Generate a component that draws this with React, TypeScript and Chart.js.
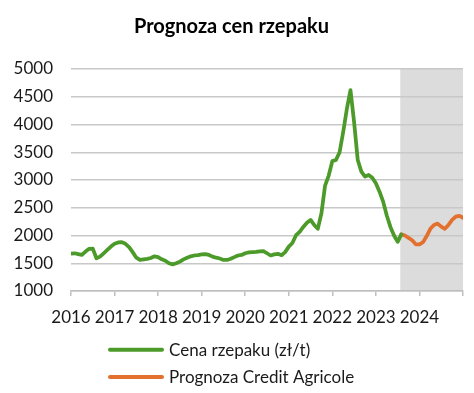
import React, { useEffect, useRef } from "react";
import { Chart, registerables } from "chart.js";

Chart.register(...registerables);

// Monthly series starting January 2016
const startYear = 2016;
const yearTicks = [2016, 2017, 2018, 2019, 2020, 2021, 2022, 2023, 2024, 2025];
const priceStartMonth = 0; // Jan 2016
const priceValues = [
  1675, 1680, 1665, 1650, 1710, 1760, 1765, 1590, 1620, 1680, 1740, 1800,
  1850, 1875, 1880, 1850, 1790, 1700, 1600, 1560, 1570, 1580, 1595, 1625,
  1610, 1570, 1545, 1500, 1480, 1500, 1530, 1570, 1600, 1625, 1640, 1645,
  1660, 1665, 1650, 1620, 1600, 1585, 1560, 1560, 1580, 1610, 1640, 1650,
  1680, 1695, 1700, 1705, 1715, 1720, 1680, 1640, 1660, 1670, 1645, 1700,
  1800, 1865, 2005, 2065, 2155, 2230, 2280, 2190, 2120, 2400, 2900, 3080,
  3340, 3360, 3500, 3870, 4280, 4620, 4040, 3360, 3150, 3060, 3090, 3040,
  2940, 2790, 2610, 2360, 2155, 2000, 1885, 2020,
];
const forecastStartMonth = 91; // Aug 2023
const forecastValues = [
  2020, 2000, 1958, 1915, 1840, 1840, 1880, 1990, 2120, 2190, 2215, 2160,
  2120, 2190, 2280, 2340, 2355, 2320,
];
const forecastShadeStart = 2023.56;
const seriesLabels = ["Cena rzepaku (zł/t)", "Prognoza Credit Agricole"];
const seriesColors = ["#4C9A2A", "#E2702F"];

const toPoints = (start: number, vals: number[]) =>
  vals.map((v, i) => ({ x: startYear + (start + i) / 12, y: v }));

const FONT = "Lato, 'Open Sans', sans-serif";

const shadePlugin = {
  id: "forecastShade",
  beforeDraw(chart: any) {
    const { ctx, chartArea, scales } = chart;
    const x0 = scales.x.getPixelForValue(forecastShadeStart);
    ctx.save();
    ctx.fillStyle = "#DCDCDC";
    ctx.fillRect(x0, chartArea.top, chartArea.right - x0, chartArea.bottom - chartArea.top);
    ctx.restore();
  },
};

const legendPlugin = {
  id: "stackedLegend",
  afterDraw(chart: any) {
    const { ctx } = chart;
    const rows = [349.7, 376.9];
    ctx.save();
    chart.data.datasets.forEach((ds: any, i: number) => {
      const y = rows[i];
      ctx.strokeStyle = ds.borderColor;
      ctx.lineWidth = 4;
      ctx.lineCap = "round";
      ctx.beginPath();
      ctx.moveTo(110, y);
      ctx.lineTo(162, y);
      ctx.stroke();
      ctx.fillStyle = "#1a1a1a";
      ctx.font = `17px ${FONT}`;
      ctx.textBaseline = "middle";
      ctx.textAlign = "left";
      ctx.fillText(ds.label, 169, y + 1);
    });
    ctx.restore();
  },
};

export default function App() {
  const ref = useRef<HTMLCanvasElement>(null);
  useEffect(() => {
    if (!ref.current) return;
    const chart = new Chart(ref.current, {
      type: "line",
      data: {
        datasets: [
          {
            label: seriesLabels[0],
            data: toPoints(priceStartMonth, priceValues),
            borderColor: seriesColors[0],
            backgroundColor: seriesColors[0],
            borderWidth: 3.75,
            pointRadius: 0,
            tension: 0,
            borderJoinStyle: "round",
            borderCapStyle: "round",
          },
          {
            label: seriesLabels[1],
            data: toPoints(forecastStartMonth, forecastValues),
            borderColor: seriesColors[1],
            backgroundColor: seriesColors[1],
            borderWidth: 3.75,
            pointRadius: 0,
            tension: 0,
            borderJoinStyle: "round",
            borderCapStyle: "round",
          },
        ],
      },
      options: {
        responsive: false,
        animation: false,
        events: [],
        layout: { padding: { left: 0, right: 11, top: 0, bottom: 62 } },
        plugins: {
          legend: { display: false },
          tooltip: { enabled: false },
          title: {
            display: true,
            text: "Prognoza cen rzepaku",
            color: "#000",
            font: { family: FONT, size: 20, weight: "bold" },
            padding: { top: 15, bottom: 30 },
          },
        },
        scales: {
          x: {
            type: "linear",
            min: yearTicks[0],
            max: yearTicks[yearTicks.length - 1],
            afterBuildTicks: (s: any) => {
              s.ticks = yearTicks.map((v) => ({ value: v }));
            },
            afterFit: (s: any) => {
              s.height = 40;
            },
            ticks: {
              autoSkip: false,
              maxRotation: 0,
              padding: 11,
              color: "#1a1a1a",
              font: { family: FONT, size: 17 },
              callback: (v: any) => (v === yearTicks[yearTicks.length - 1] ? "" : String(v)),
            },
            grid: {
              drawOnChartArea: false,
              drawTicks: true,
              tickLength: 5,
              color: "#BFBFBF",
              lineWidth: 1.5,
            },
            border: { color: "#BFBFBF", width: 1.5 },
          },
          y: {
            min: 1000,
            max: 5000,
            afterFit: (s: any) => {
              s.width = 71;
            },
            ticks: {
              stepSize: 500,
              padding: 18,
              color: "#1a1a1a",
              font: { family: FONT, size: 17 },
              callback: (v: any) => String(v),
            },
            grid: { color: "#C8C8C8", lineWidth: 1.5, drawTicks: false },
            border: { display: false },
          },
        },
      },
      plugins: [shadePlugin, legendPlugin],
    } as any);
    return () => chart.destroy();
  }, []);
  return (
    <div style={{ position: "fixed", left: 0, top: 0, width: 474, height: 393, background: "#fff" }}>
      <canvas ref={ref} width={474} height={393} />
    </div>
  );
}
